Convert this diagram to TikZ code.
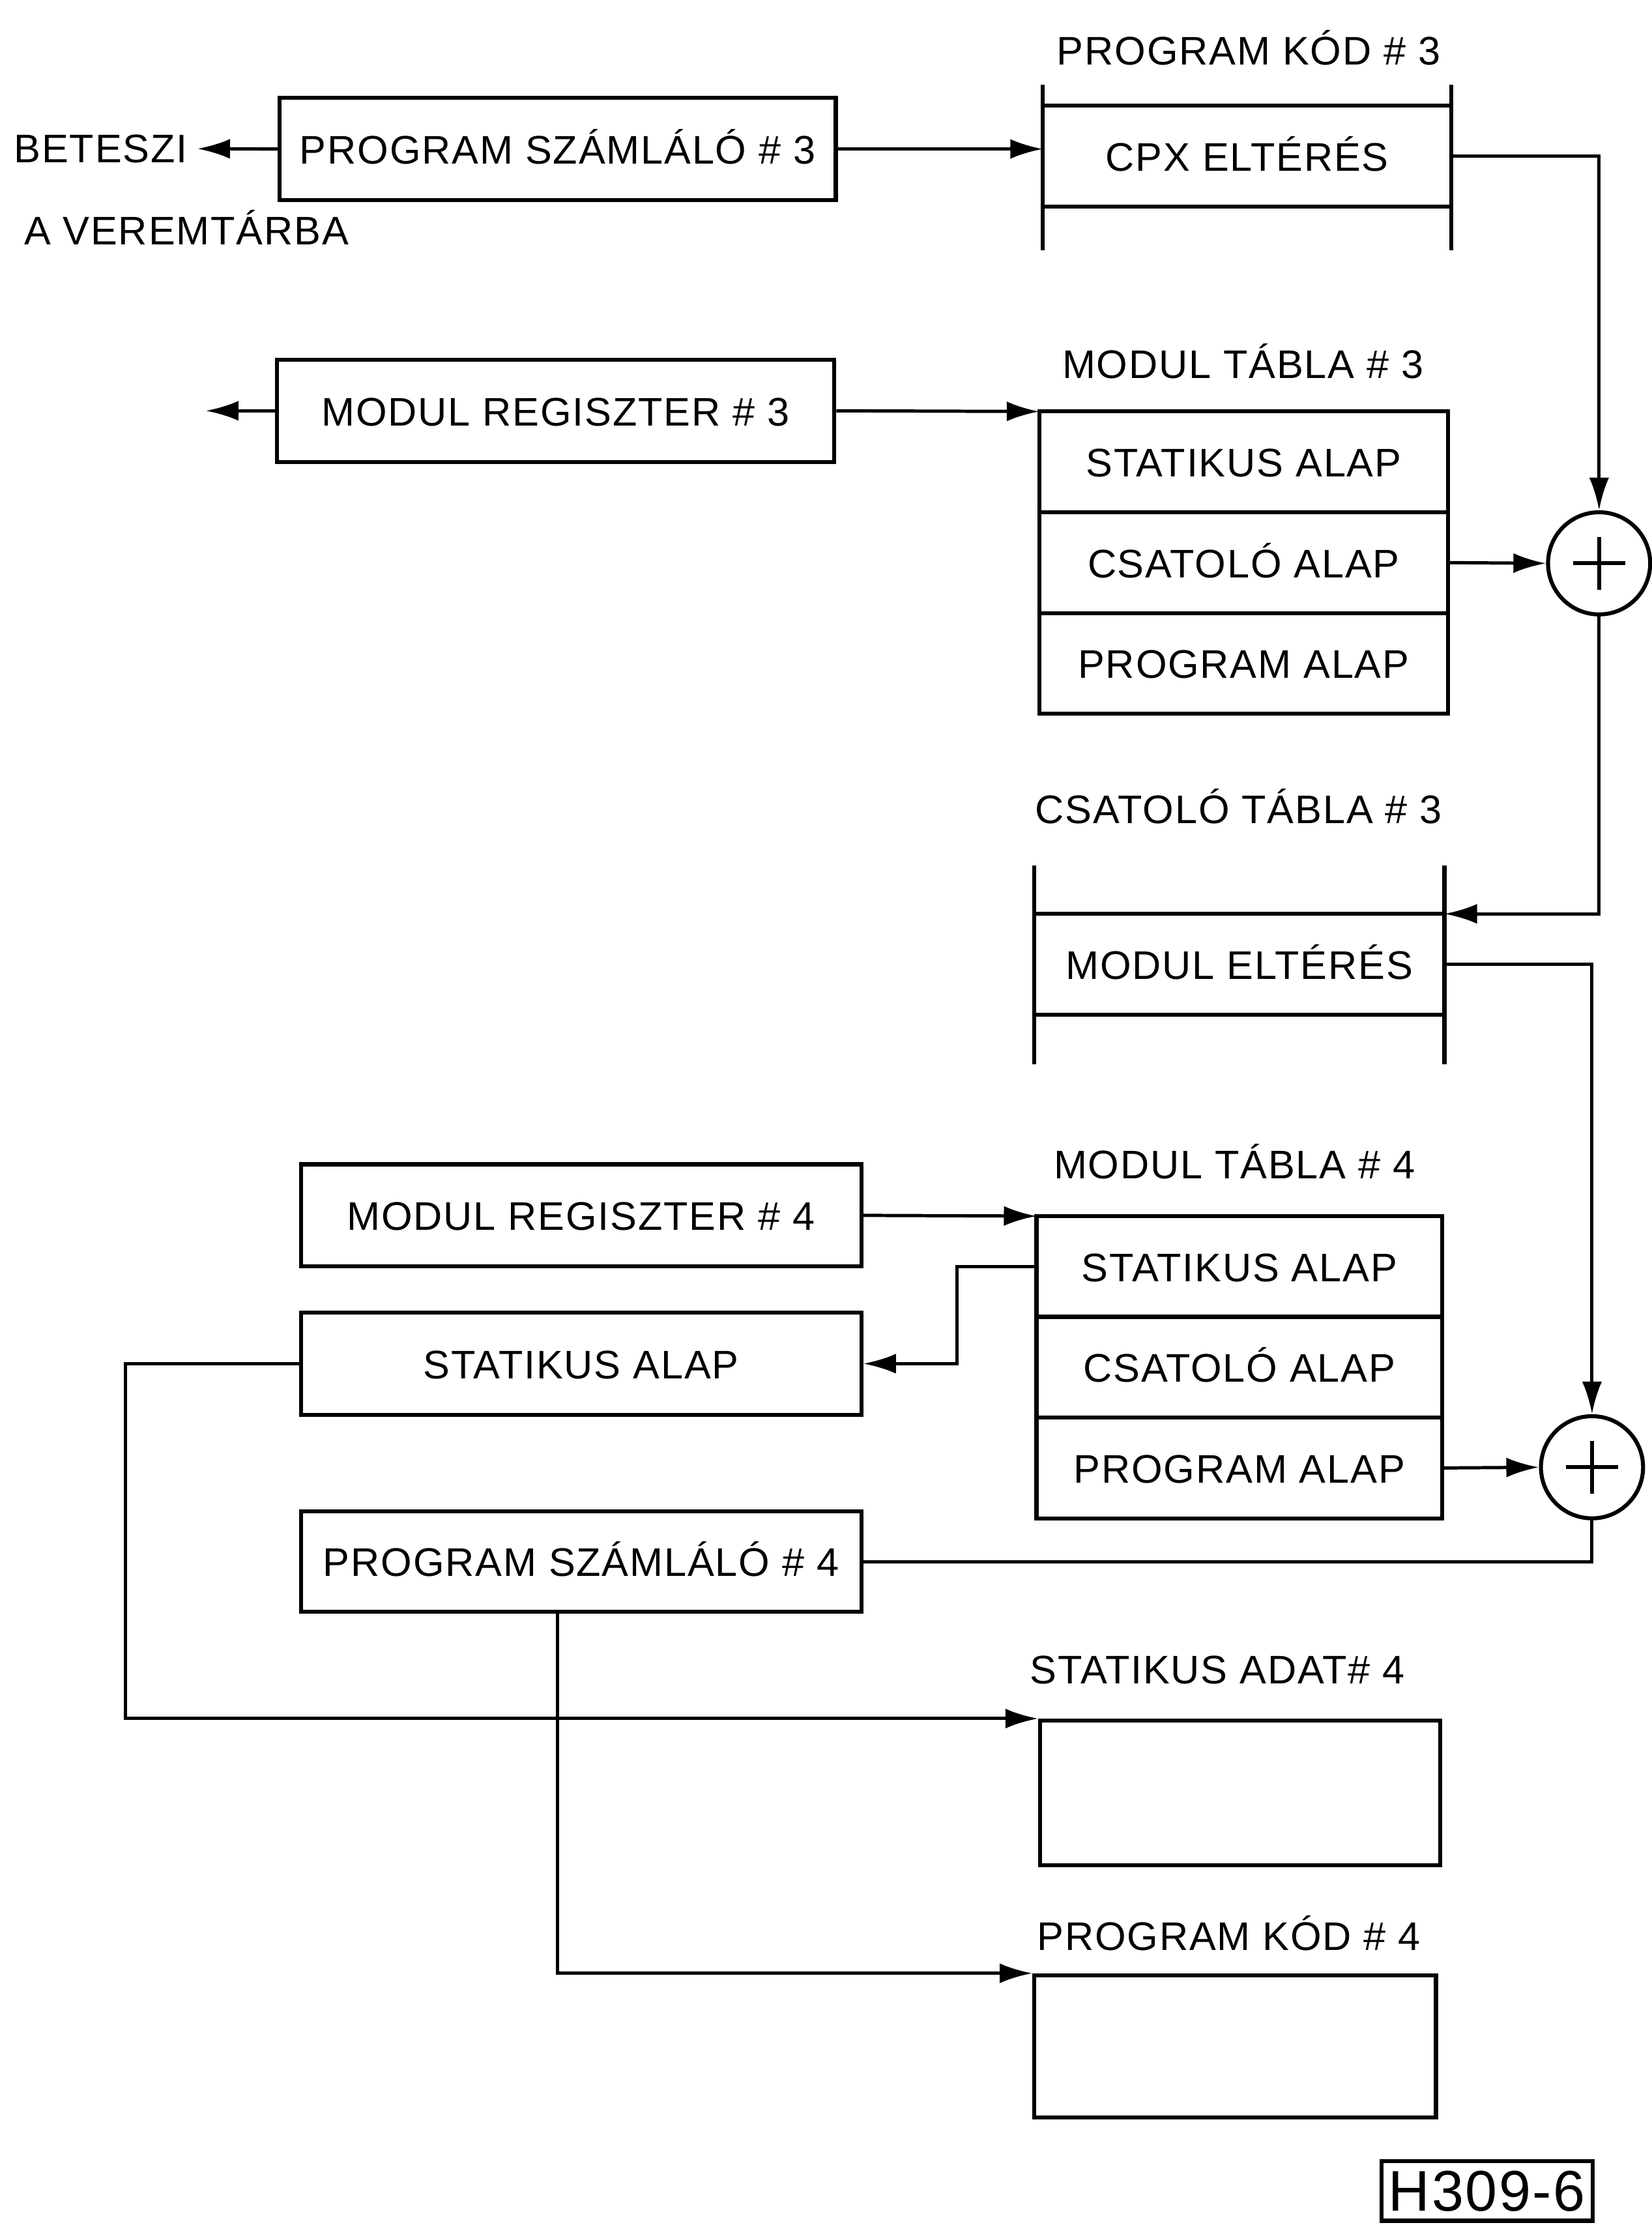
\documentclass[tikz,border=0pt]{standalone}
\usepackage{fontspec}
\setsansfont{Liberation Sans}[LetterSpace=3]
\usepackage{tikz}
\usetikzlibrary{arrows.meta,positioning,calc}

\begin{document}
\begin{tikzpicture}[font=\sffamily\fontsize{16}{19}\selectfont,>={Latex[length=4.6mm,width=2.8mm]},line width=1.3pt]
  \tikzset{regbox/.style={draw,line width=1.6pt,minimum width=7.9cm,minimum height=1.44cm,text height=0.42cm,text depth=0pt,inner sep=0pt},
    tabrow/.style={draw,line width=1.6pt,minimum width=5.76cm,minimum height=1.42cm,text height=0.42cm,text depth=0pt,inner sep=0pt,outer sep=0pt},
    storebox/.style={draw,line width=1.6pt,minimum width=5.64cm,minimum height=2.04cm},
    sumnode/.style={draw,circle,line width=1.6pt,minimum size=1.44cm,inner sep=0pt,
      path picture={\draw[line width=1.6pt] (path picture bounding box.center) +(-0.37,0) -- +(0.37,0) +(0,-0.37) -- +(0,0.37);}},
    tablabel/.style={anchor=base}}

  \useasboundingbox (0,0) rectangle (23.28,-31.36);

  \node[regbox,minimum width=7.84cm] (pc3) at (7.86,-2.10) {PROGRAM SZÁMLÁLÓ \# 3};
  \node[tablabel] (beteszi) at (1.42,-2.29) {BETESZI};
  \node[tablabel,anchor=base west] (verem) at (0.2,-3.45) {A VEREMTÁRBA};

  \node[tablabel] (code3lbl) at (17.6,-0.91) {PROGRAM KÓD \# 3};
  \node[tabrow] (code3) at (17.58,-2.20) {CPX ELTÉRÉS};
  \draw[line width=1.6pt] (code3.north west) -- ++(0,0.3) (code3.north east) -- ++(0,0.3)
    (code3.south west) -- ++(0,-0.62) (code3.south east) -- ++(0,-0.62);

  \node[regbox,minimum width=7.86cm] (mreg3) at (7.83,-5.79) {MODUL REGISZTER \# 3};
  \coordinate (pushmod) at (2.9,-5.79);

  \node[tablabel] (mtab3lbl) at (17.52,-5.33) {MODUL TÁBLA \# 3};
  \node[tabrow] (mtab3a) at (17.53,-6.51) {STATIKUS ALAP};
  \node[tabrow,below=0pt of mtab3a] (mtab3b) {CSATOLÓ ALAP};
  \node[tabrow,below=0pt of mtab3b] (mtab3c) {PROGRAM ALAP};

  \node[sumnode] (sum3) at (22.54,-7.94) {};

  \node[tablabel] (link3lbl) at (17.46,-11.61) {CSATOLÓ TÁBLA \# 3};
  \node[tabrow,minimum width=5.78cm] (link3) at (17.47,-13.59) {MODUL ELTÉRÉS};
  \draw[line width=1.6pt] (link3.north west) -- ++(0,0.68) (link3.north east) -- ++(0,0.68)
    (link3.south west) -- ++(0,-0.70) (link3.south east) -- ++(0,-0.70);

  \node[regbox] (mreg4) at (8.19,-17.13) {MODUL REGISZTER \# 4};
  \node[regbox] (statbase) at (8.19,-19.22) {STATIKUS ALAP};
  \node[regbox,minimum height=1.42cm] (pc4) at (8.19,-22.01) {PROGRAM SZÁMLÁLÓ \# 4};

  \node[tablabel] (mtab4lbl) at (17.4,-16.61) {MODUL TÁBLA \# 4};
  \node[tabrow,minimum width=5.72cm] (mtab4a) at (17.47,-17.85) {STATIKUS ALAP};
  \node[tabrow,minimum width=5.72cm,below=0pt of mtab4a] (mtab4b) {CSATOLÓ ALAP};
  \node[tabrow,minimum width=5.72cm,below=0pt of mtab4b] (mtab4c) {PROGRAM ALAP};

  \node[sumnode] (sum4) at (22.44,-20.68) {};

  \node[tablabel] (statdatalbl) at (17.16,-23.73) {STATIKUS ADAT\# 4};
  \node[storebox] (statdata) at (17.48,-25.27) {};
  \node[tablabel] (code4lbl) at (17.32,-27.49) {PROGRAM KÓD \# 4};
  \node[storebox,minimum width=5.66cm,minimum height=2.0cm] (code4) at (17.41,-28.84) {};

  \node[draw,line width=1.6pt,minimum width=2.98cm,minimum height=0.84cm,inner sep=0pt,font=\sffamily\fontsize{23}{23}\selectfont] (figid) at (20.96,-30.88) {H309-6};

  \draw[->] (pc3.west) -- (beteszi.east);
  \draw[->] (pc3.east) -- (pc3.east -| code3.west);
  \draw[->] (code3.east) -| (sum3.north);
  \draw[->] (mreg3.west) -- (pushmod);
  \draw[->] (mreg3.east) -- (mtab3a.north west);
  \draw[->] (mtab3b.east) -- (sum3.west);
  \draw[->] (sum3.south) |- (link3.north east);
  \draw[->] (link3.east) -| (sum4.north);
  \draw[->] (mreg4.east) -- (mtab4a.north west);
  \draw[->] (mtab4a.west) -- ++(-1.12,0) |- (statbase.east);
  \draw[->] (statbase.west) -- ++(-2.44,0) |- (statdata.north west);
  \draw[->] (mtab4c.east) -- (sum4.west);
  \draw (sum4.south) |- (pc4.east);
  \draw[->] ([xshift=-0.33cm]pc4.south) |- (code4.north west);
\end{tikzpicture}
\end{document}
